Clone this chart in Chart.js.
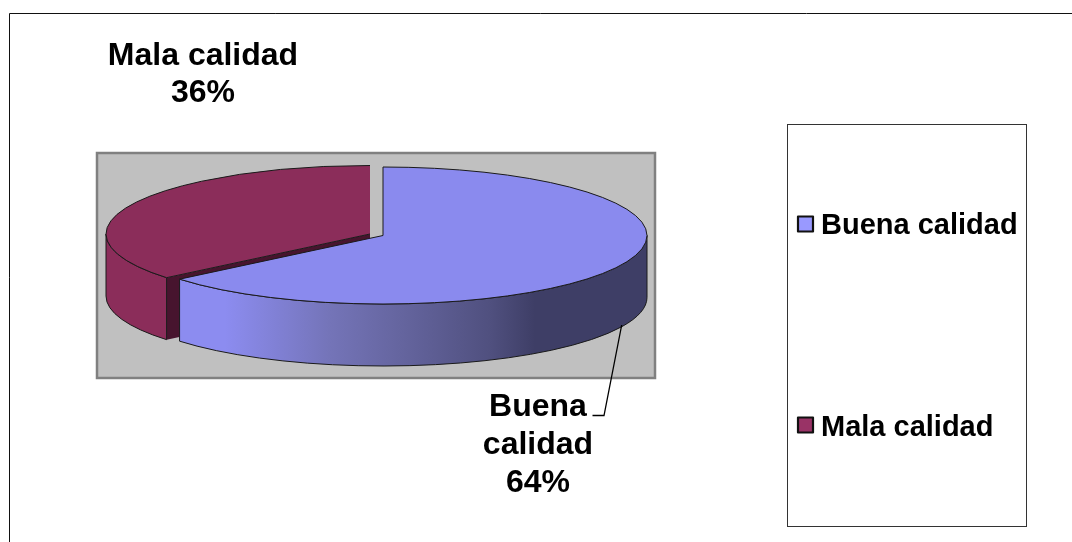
<!DOCTYPE html>
<html>
<head>
<meta charset="utf-8">
<style>
html,body{margin:0;padding:0;background:#fff;}
canvas{display:block;}
</style>
<script src="https://cdn.jsdelivr.net/npm/chart.js@4/dist/chart.umd.min.js"></script>
</head>
<body>
<canvas id="c" width="1072" height="542"></canvas>
<script>
const categories = ["Buena calidad", "Mala calidad"];
const percentages = [64, 36];
const topColors = ["#8A8AEE", "#8B2D5A"];
const legendColors = ["#9999FF", "#993366"];

const FONT = 'bold 32px "Liberation Sans", Arial, sans-serif';
const LEGEND_FONT = 'bold 29px "Liberation Sans", Arial, sans-serif';
const ASPECT = 264 / 68.5;
const DEPTH = 62;
const EXPLODE = [[6.5, 0.75], [-6.5, -0.75]];
const PLOT = {l: 97, t: 153, r: 655, b: 378};
const LEGEND = {l: 787.5, t: 124.5, r: 1026.5, b: 526.5};
const LEGEND_ROWS = [{box: 216.5, text: 234}, {box: 417.5, text: 435.5}];
const DATA_LABELS = [
  {lines: ["Buena", "calidad", "64%"], x: 538, y: 415.5, step: 38},
  {lines: ["Mala calidad", "36%"], x: 203, y: 65, step: 37}
];

function wallPath(ctx, cx, cy, rx, ry, a0, a1) {
  ctx.beginPath();
  ctx.ellipse(cx, cy, rx, ry, 0, a0, a1);
  ctx.ellipse(cx, cy + DEPTH, rx, ry, 0, a1, a0, true);
  ctx.closePath();
}

const pie3d = {
  id: 'pie3d',
  beforeDraw(chart) {
    const ctx = chart.ctx;
    ctx.save();
    ctx.fillStyle = '#fff';
    ctx.fillRect(0, 0, chart.width, chart.height);
    ctx.strokeStyle = '#111';
    ctx.lineWidth = 1;
    ctx.beginPath();
    ctx.moveTo(9.5, chart.height);
    ctx.lineTo(9.5, 13.5);
    ctx.lineTo(chart.width, 13.5);
    ctx.stroke();
    ctx.fillStyle = '#C0C0C0';
    ctx.fillRect(PLOT.l, PLOT.t, PLOT.r - PLOT.l, PLOT.b - PLOT.t);
    ctx.strokeStyle = '#808080';
    ctx.lineWidth = 2.5;
    ctx.strokeRect(PLOT.l, PLOT.t, PLOT.r - PLOT.l, PLOT.b - PLOT.t);
    ctx.restore();
  },
  beforeDatasetDraw(chart) {
    const ctx = chart.ctx;
    const arcs = chart.getDatasetMeta(0).data;
    const order = [1, 0];
    order.forEach(i => {
      const arc = arcs[i];
      const cx = arc.x + EXPLODE[i][0], cy = arc.y + EXPLODE[i][1];
      const ry = arc.outerRadius, rx = ry * ASPECT;
      const a0 = Math.max(arc.startAngle, 0), a1 = Math.min(arc.endAngle, Math.PI);
      ctx.save();
      ctx.lineWidth = 1;
      ctx.strokeStyle = '#1a1a1a';
      // cut face of the lower slice
      if (i === 1) {
        const ex = cx + Math.cos(arc.startAngle) * rx, ey = cy + Math.sin(arc.startAngle) * ry;
        ctx.beginPath();
        ctx.moveTo(cx, cy);
        ctx.lineTo(ex, ey);
        ctx.lineTo(ex, ey + DEPTH);
        ctx.lineTo(cx, cy + DEPTH);
        ctx.closePath();
        ctx.fillStyle = '#47142E';
        ctx.fill();
      }
      // outer wall
      wallPath(ctx, cx, cy, rx, ry, a0, a1);
      if (i === 0) {
        const g = ctx.createLinearGradient(cx - rx, 0, cx + rx, 0);
        const xs = x => (x - (cx - rx)) / (2 * rx);
        g.addColorStop(0, '#8C8CF0');
        g.addColorStop(xs(225), '#8C8CF0');
        g.addColorStop(xs(330), '#7474B8');
        g.addColorStop(xs(400), '#65659F');
        g.addColorStop(xs(490), '#50507F');
        g.addColorStop(xs(535), '#3E3E66');
        g.addColorStop(1, '#3E3E66');
        ctx.fillStyle = g;
      } else {
        ctx.fillStyle = topColors[i];
      }
      ctx.fill();
      ctx.stroke();
      // top face drawn by the library's arc element
      ctx.save();
      ctx.translate(cx, cy);
      ctx.scale(ASPECT, 1);
      ctx.translate(-arc.x, -arc.y);
      arc.draw(ctx);
      ctx.restore();
      // outlines
      ctx.beginPath();
      ctx.moveTo(cx, cy);
      ctx.ellipse(cx, cy, rx, ry, 0, arc.startAngle, arc.endAngle);
      if (i === 0) ctx.closePath();
      ctx.stroke();
      ctx.restore();
    });
    return false;
  },
  afterDraw(chart) {
    const ctx = chart.ctx;
    ctx.save();
    // leader line
    ctx.strokeStyle = '#000';
    ctx.lineWidth = 1.3;
    ctx.beginPath();
    ctx.moveTo(621.7, 325);
    ctx.lineTo(604, 415.5);
    ctx.lineTo(592.5, 415.5);
    ctx.stroke();
    // data labels
    ctx.fillStyle = '#000';
    ctx.font = FONT;
    ctx.textAlign = 'center';
    ctx.textBaseline = 'alphabetic';
    DATA_LABELS.forEach(d => d.lines.forEach((t, k) => ctx.fillText(t, d.x, d.y + k * d.step)));
    // legend
    ctx.strokeStyle = '#333';
    ctx.lineWidth = 1;
    ctx.fillStyle = '#fff';
    ctx.fillRect(LEGEND.l, LEGEND.t, LEGEND.r - LEGEND.l, LEGEND.b - LEGEND.t);
    ctx.strokeRect(LEGEND.l, LEGEND.t, LEGEND.r - LEGEND.l, LEGEND.b - LEGEND.t);
    ctx.textAlign = 'left';
    ctx.font = LEGEND_FONT;
    categories.forEach((name, i) => {
      const r = LEGEND_ROWS[i];
      ctx.fillStyle = legendColors[i];
      ctx.strokeStyle = '#111';
      ctx.lineWidth = 2.2;
      ctx.lineJoin = 'round';
      ctx.fillRect(798, r.box, 15, 15);
      ctx.strokeRect(798, r.box, 15, 15);
      ctx.fillStyle = '#000';
      ctx.fillText(name, 821, r.text);
    });
    ctx.restore();
  }
};

new Chart(document.getElementById('c'), {
  type: 'pie',
  data: {
    labels: categories,
    datasets: [{
      data: percentages,
      backgroundColor: topColors,
      borderWidth: 0
    }]
  },
  options: {
    responsive: false,
    animation: false,
    layout: {padding: {left: 112.5, right: 431.5, top: 166.25, bottom: 238.75}},
    plugins: {legend: {display: false}, tooltip: {enabled: false}, title: {display: false}}
  },
  plugins: [pie3d]
});
</script>
</body>
</html>
